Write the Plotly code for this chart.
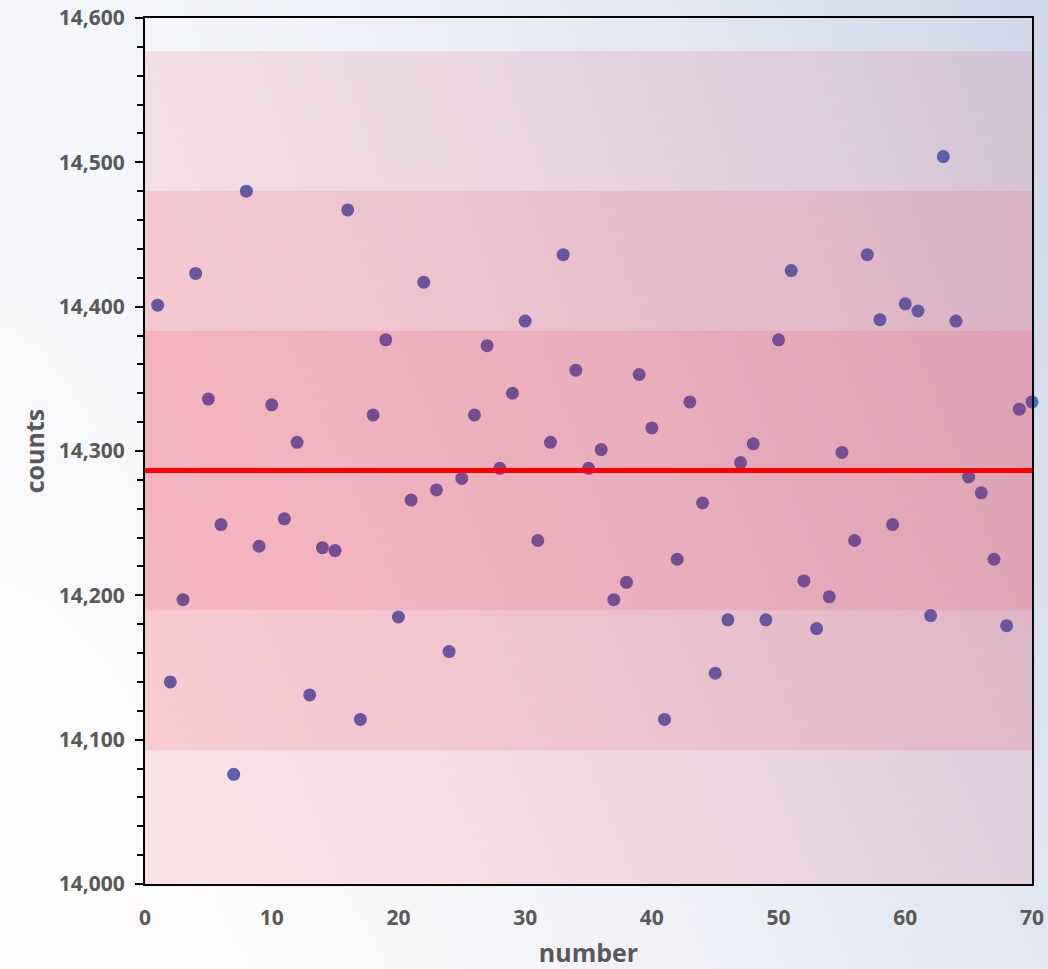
import base64
import struct
import zlib

import numpy as np
import plotly.graph_objects as go

# ---- data ----
numbers = list(range(1, 71))
counts = [
    14401, 14140, 14197, 14423, 14336, 14249, 14076, 14480, 14234, 14332,
    14253, 14306, 14131, 14233, 14231, 14467, 14114, 14325, 14377, 14185,
    14266, 14417, 14273, 14161, 14281, 14325, 14373, 14288, 14340, 14390,
    14238, 14306, 14436, 14356, 14288, 14301, 14197, 14209, 14353, 14316,
    14114, 14225, 14334, 14264, 14146, 14183, 14292, 14305, 14183, 14377,
    14425, 14210, 14177, 14199, 14299, 14238, 14436, 14391, 14249, 14402,
    14397, 14186, 14504, 14390, 14282, 14271, 14225, 14179, 14329, 14334,
]
mean_count = 14286.5
sd_count = 96.8
sigma_levels = [3, 2, 1]
y_ticks = [14000, 14100, 14200, 14300, 14400, 14500, 14600]
x_ticks = [0, 10, 20, 30, 40, 50, 60, 70]

W, H = 1048, 969


# ---- background gradient image (figure backdrop) ----
def gradient_uri(w=262, h=243):
    tl = np.array([245, 247, 251], float)
    tr = np.array([207, 215, 233], float)
    bl = np.array([255, 253, 253], float)
    br = np.array([226, 231, 243], float)
    u = (np.linspace(0, 1, w) ** 1.6)[None, :, None]
    v = np.linspace(0, 1, h)[:, None, None]
    top = tl * (1 - u) + tr * u
    bot = bl * (1 - u) + br * u
    img = (top * (1 - v) + bot * v).clip(0, 255).astype(np.uint8)
    raw = b"".join(b"\x00" + img[i].tobytes() for i in range(h))

    def chunk(tag, data):
        c = struct.pack(">I", len(data)) + tag + data
        return c + struct.pack(">I", zlib.crc32(tag + data) & 0xFFFFFFFF)

    png = b"\x89PNG\r\n\x1a\n"
    png += chunk(b"IHDR", struct.pack(">IIBBBBB", w, h, 8, 2, 0, 0, 0))
    png += chunk(b"IDAT", zlib.compress(raw, 9))
    png += chunk(b"IEND", b"")
    return "data:image/png;base64," + base64.b64encode(png).decode()


ml, mr, mt, mb = 145, 16, 18, 85
pw, ph = W - ml - mr, H - mt - mb

fig = go.Figure()
fig.add_trace(go.Scatter(
    x=numbers, y=counts, mode="markers",
    marker=dict(size=13, color="#4a69bd", line=dict(width=0)),
    cliponaxis=False, showlegend=False,
))

shapes = []
for k in sigma_levels:
    shapes.append(dict(
        type="rect", xref="x", yref="y", layer="above",
        x0=x_ticks[0], x1=x_ticks[-1],
        y0=mean_count - k * sd_count, y1=mean_count + k * sd_count,
        fillcolor="rgba(235,10,35,0.10)", line=dict(width=0),
    ))
shapes.append(dict(
    type="line", xref="x", yref="y", layer="above",
    x0=x_ticks[0], x1=x_ticks[-1], y0=mean_count, y1=mean_count,
    line=dict(color="#ff0000", width=5),
))

font_fam = "Open Sans"
fig.update_layout(
    width=W, height=H,
    margin=dict(l=ml, r=mr, t=mt, b=mb, autoexpand=False),
    paper_bgcolor="white",
    plot_bgcolor="rgba(0,0,0,0)",
    shapes=shapes,
    images=[dict(
        source=gradient_uri(), xref="paper", yref="paper",
        x=-ml / pw, y=1 + mt / ph, sizex=W / pw, sizey=H / ph,
        xanchor="left", yanchor="top", sizing="stretch", layer="below",
    )],
    font=dict(family=font_fam, color="#595959"),
)
fig.update_xaxes(
    automargin=False,
    range=[x_ticks[0], x_ticks[-1]], tickvals=x_ticks,
    showgrid=False, zeroline=False,
    showline=True, mirror=True, linecolor="black", linewidth=2,
    ticks="", ticklabelstandoff=14,
    tickfont=dict(size=21, family=font_fam, color="#595959", weight="bold"),
    title=dict(text="<b>number</b>", font=dict(size=25, color="#595959"), standoff=17),
)
fig.update_yaxes(
    automargin=False,
    range=[y_ticks[0], y_ticks[-1]], tickvals=y_ticks, tickformat=",",
    showgrid=False, zeroline=False,
    showline=True, mirror=True, linecolor="black", linewidth=2,
    ticks="outside", ticklen=8, tickwidth=2, tickcolor="black",
    minor=dict(dtick=20, ticks="outside", ticklen=6, tickwidth=2, tickcolor="black", showgrid=False),
    ticklabelstandoff=6,
    tickfont=dict(size=21, family=font_fam, color="#595959", weight="bold"),
    title=dict(text="<b>counts</b>", font=dict(size=25, color="#595959"), standoff=7),
)

fig.write_html(
    "out.html",
    config={"displayModeBar": False},
    post_script="document.body.style.margin='0';document.body.style.overflow='hidden';",
)
